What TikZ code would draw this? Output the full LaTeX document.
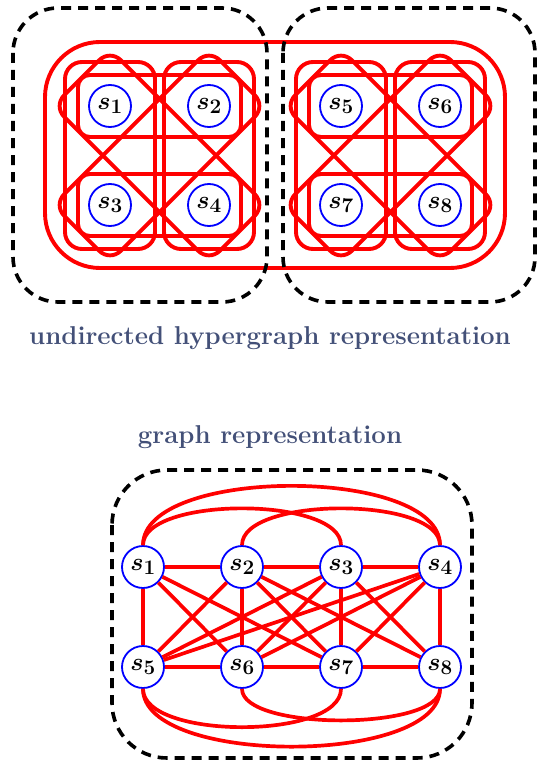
\documentclass[tikz,border=0pt]{standalone}
\usepackage{fontspec}
\definecolor{titlecol}{RGB}{67,80,120}
\begin{document}
\begin{tikzpicture}[x=1pt,y=-1pt,
  hedge/.style={draw=red, line width=3.9pt},
  gedge/.style={draw=red, line width=3.7pt},
  vtx/.style={circle, draw=blue, line width=1.8pt, fill=white, minimum size=42pt, inner sep=0pt, font=\fontsize{29}{30}\selectfont\boldmath},
  grp/.style={draw=black, line width=3.6pt, dash pattern=on 10pt off 7pt},
  title/.style={text=titlecol, font=\fontsize{25.8}{30}\selectfont\bfseries}]
\useasboundingbox (0,0) rectangle (538,765);

% ---------- hypergraph ----------
\foreach \ox in {0,231}{
  \begin{scope}[xshift=\ox pt]
    \draw[hedge, rounded corners=12pt] (78,75) rectangle (241,137);
    \draw[hedge, rounded corners=12pt] (78,174) rectangle (241,236);
    \draw[hedge, rounded corners=17pt] (65,62) rectangle (155,249);
    \draw[hedge, rounded corners=17pt] (164,62) rectangle (254,249);
    \draw[hedge, rounded corners=15pt, shift={(159.5,155.5)}, rotate=45] (-110,-40) rectangle (110,40);
    \draw[hedge, rounded corners=15pt, shift={(159.5,155.5)}, rotate=-45] (-110,-40) rectangle (110,40);
  \end{scope}
}
\draw[hedge, rounded corners=55pt] (45,42) rectangle (505,268);
\draw[grp, rounded corners=45pt] (13,8) rectangle (267,302);
\draw[grp, rounded corners=45pt] (283,8) rectangle (535,302);

\node[vtx] (a1) at (110,106) {$s_1$};
\node[vtx] (a2) at (209,106) {$s_2$};
\node[vtx] (a3) at (110,205) {$s_3$};
\node[vtx] (a4) at (209,205) {$s_4$};
\node[vtx] (a5) at (341,106) {$s_5$};
\node[vtx] (a6) at (440,106) {$s_6$};
\node[vtx] (a7) at (341,205) {$s_7$};
\node[vtx] (a8) at (440,205) {$s_8$};

\node[title] (t1) at (270,338) {undirected hypergraph representation};
\node[title] (t2) at (270,437) {graph representation};

% ---------- graph ----------
\draw[grp, rounded corners=55pt] (112,470) rectangle (472,758);

\node[vtx] (b1) at (143,567) {$s_1$};
\node[vtx] (b2) at (242,567) {$s_2$};
\node[vtx] (b3) at (341,567) {$s_3$};
\node[vtx] (b4) at (440,567) {$s_4$};
\node[vtx] (b5) at (143,667) {$s_5$};
\node[vtx] (b6) at (242,667) {$s_6$};
\node[vtx] (b7) at (341,667) {$s_7$};
\node[vtx] (b8) at (440,667) {$s_8$};

\foreach \u/\v in {b1/b2,b2/b3,b3/b4,b5/b6,b6/b7,b7/b8,
                   b1/b5,b2/b6,b3/b7,b4/b8,
                   b1/b6,b1/b7,
                   b2/b5,b2/b7,b2/b8,
                   b3/b5,b3/b6,b3/b8,
                   b4/b5,b4/b6,b4/b7}
  \draw[gedge] (\u) -- (\v);
\draw[gedge] (b1.north) .. controls +(0,-79) and +(0,-79) .. (b4.north);
\draw[gedge] (b1.north) .. controls +(0,-49) and +(0,-49) .. (b3.north);
\draw[gedge] (b2.north) .. controls +(0,-49) and +(0,-49) .. (b4.north);
\draw[gedge] (b5.south) .. controls +(0,77) and +(0,77) .. (b8.south);
\draw[gedge] (b5.south) .. controls +(0,51) and +(0,51) .. (b7.south);
\draw[gedge] (b6.south) .. controls +(0,42) and +(0,42) .. (b8.south);
\end{tikzpicture}
\end{document}
